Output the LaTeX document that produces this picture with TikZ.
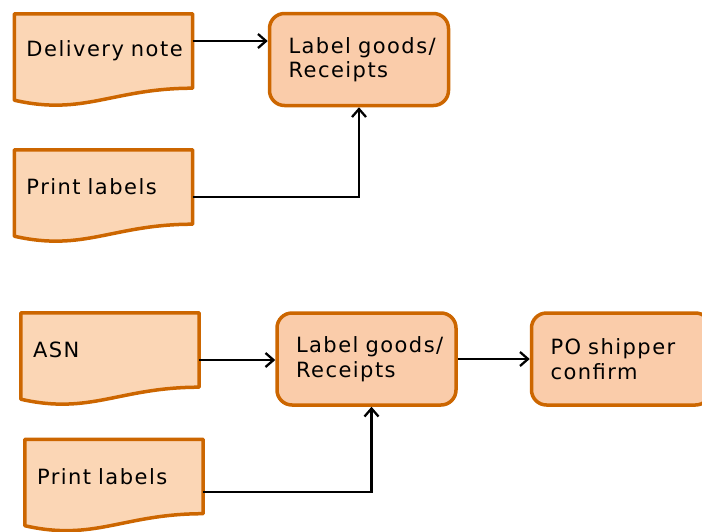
\documentclass[tikz,border=0pt]{standalone}
\usepackage{fontspec}
\newfontfamily\boxfont[LetterSpace=7,WordSpace=1.4]{DejaVu Sans}
\newcommand{\labelfont}{\boxfont\fontsize{21}{24.5}\selectfont}
\usetikzlibrary{arrows.meta,calc,backgrounds}
\definecolor{edgeorange}{RGB}{204,102,0}
\definecolor{docfill}{RGB}{251,214,181}
\definecolor{stepfill}{RGB}{250,204,170}

% outline of a document node, wavy bottom edge
\newcommand{\docshape}[1]{%
  \draw[docline] (#1.north west) -- (#1.north east) -- (#1.south east)
    .. controls +(-80,0) and +(70,16) .. ($(#1.south west)+(0,12)$) -- cycle;}

\begin{document}
\begin{tikzpicture}[x=1pt,y=-1pt,
    docbox/.style={rectangle,inner xsep=12pt,inner ysep=0pt,text width=154pt,minimum height=74pt,align=left,font=\labelfont},
    stepbox/.style={rectangle,rounded corners=15pt,draw=edgeorange,line width=3.5pt,fill=stepfill,inner xsep=19pt,text width=141pt,minimum height=92pt,align=left,font=\labelfont},
    docline/.style={draw=edgeorange,line width=3.5pt,fill=docfill,line join=round},
    flow/.style={black,line width=2.3pt,-{Straight Barb[length=8pt,width=14pt]}}]
	\useasboundingbox (0,0) rectangle (702,531);

	% receipt with delivery note
	\node[docbox](dn) at (103.5,51){Delivery~note};
	\node[stepbox](lg1) at (359,59.5){Label~goods/\\Receipts};
	\node[docbox](pl1) at (103.5,187){Print~labels};

	% receipt with ASN
	\node[docbox](asn) at (110,350){ASN};
	\node[stepbox](lg2) at (366.5,359){Label~goods/\\Receipts};
	\node[stepbox](po) at (621,359){PO~shipper\\confirm};
	\node[docbox](pl2) at (114,476.5){Print~labels};

	\begin{pgfonlayer}{background}
		\docshape{dn}
		\docshape{pl1}
		\docshape{asn}
		\docshape{pl2}
	\end{pgfonlayer}

	\coordinate (dnout) at ([yshift=10pt]dn.east);
	\coordinate (pl1out) at ([yshift=-10pt]pl1.east);
	\coordinate (asnout) at ([yshift=-10pt]asn.east);
	\coordinate (pl2out) at ([yshift=-15.5pt]pl2.east);
	\coordinate (lg2in) at ([xshift=5pt]lg2.south);

	\draw[flow](dnout)--(dnout -| lg1.west);
	\draw[flow](pl1out)-|(lg1.south);
	\draw[flow](asnout)--(asnout -| lg2.west);
	\draw[flow](lg2.east)--(po.west);
	\draw[flow](pl2out)-|(lg2in);
\end{tikzpicture}
\end{document}
